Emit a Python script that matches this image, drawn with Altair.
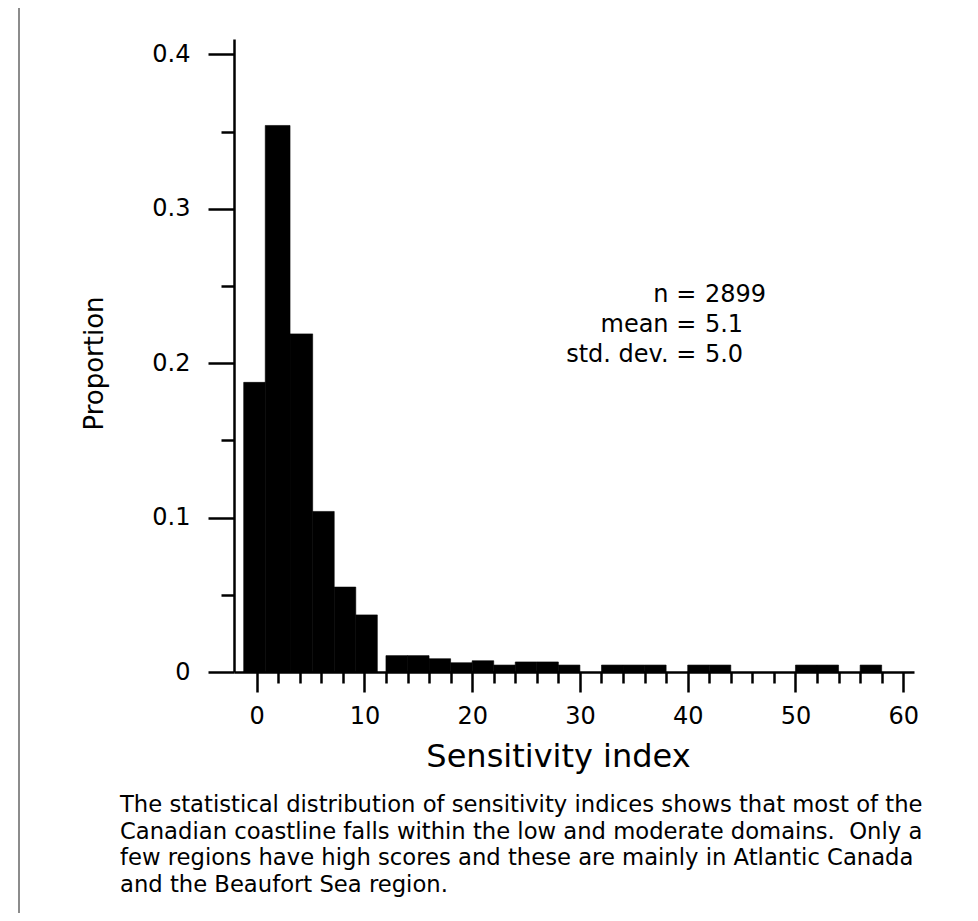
import altair as alt
import pandas as pd

FONT = "DejaVu Sans"

# ---- data ----
bin_start = [-1.2, 0.8, 3.1, 5.2, 7.2, 9.2, 12, 14, 16, 18, 20, 22, 24, 26, 28, 32, 34, 36, 40, 42, 50, 52, 56]
bin_end = [0.8, 3.1, 5.2, 7.2, 9.2, 11.2, 14, 16, 18, 20, 22, 24, 26, 28, 30, 34, 36, 38, 42, 44, 52, 54, 58]
proportion = [0.1876, 0.354, 0.219, 0.104, 0.055, 0.037,
              0.0106, 0.0106, 0.0086, 0.0060, 0.0073, 0.0045, 0.0065, 0.0065, 0.0045,
              0.0045, 0.0045, 0.0045, 0.0045, 0.0045, 0.0045, 0.0045, 0.0045]

x_tick_values = [0, 2, 4, 6, 8, 10, 12, 14, 16, 18, 20, 22, 24, 26, 28, 30,
                 32, 34, 36, 38, 40, 42, 44, 46, 48, 50, 52, 54, 56, 58, 60]
y_tick_values = [0, 0.05, 0.1, 0.15, 0.2, 0.25, 0.3, 0.35, 0.4]

stat_labels = ["n =", "mean =", "std. dev. ="]
stat_values = ["2899", "5.1", "5.0"]

caption_lines = [
    "The statistical distribution of sensitivity indices shows that most of the",
    "Canadian coastline falls within the low and moderate domains.\u00a0 Only a",
    "few regions have high scores and these are mainly in Atlantic Canada",
    "and the Beaufort Sea region.",
]

x_title = "Sensitivity index"
y_title = "Proportion"

df = pd.DataFrame({"start": bin_start, "end": bin_end, "prop": proportion})
one = pd.DataFrame({"k": [0]})

x_scale = alt.Scale(domain=[-2.1, 61.0], nice=False, zero=False)
y_scale = alt.Scale(domain=[0, 0.41], nice=False)

x_axis = alt.Axis(
    values=x_tick_values,
    tickCount=100,
    title=x_title,
    labelExpr="datum.value % 10 === 0 ? format(datum.value, 'd') : ''",
    tickSize={"condition": {"test": "datum.value % 10 === 0", "value": 20}, "value": 11},
    tickWidth=2.5, tickColor="black",
    domainWidth=2.5, domainColor="black",
    labelColor="black", labelFont=FONT, labelFontSize=24, labelPadding=12,
    labelOverlap=False, labelFlush=False,
    titleFont=FONT, titleFontSize=32, titleFontWeight="normal", titleColor="black",
    titleX=324, titleY=94, titleAlign="center", titleBaseline="alphabetic",
    grid=False,
)

y_axis = alt.Axis(
    values=y_tick_values,
    tickCount=100,
    title=y_title,
    labelExpr="round(datum.value*20) % 2 === 0 ? (datum.value === 0 ? '0' : format(datum.value, '.1f')) : ''",
    tickSize={"condition": {"test": "round(datum.value*20) % 2 === 0", "value": 26}, "value": 13},
    tickWidth=2.5, tickColor="black",
    domainWidth=2.5, domainColor="black",
    labelColor="black", labelFont=FONT, labelFontSize=24, labelPadding=18,
    labelOverlap=False, labelFlush=False,
    titleFont=FONT, titleFontSize=26, titleFontWeight="normal", titleColor="black",
    titleX=-132, titleY=324, titleAngle=270, titleAlign="center", titleBaseline="alphabetic",
    grid=False,
)

bars = alt.Chart(df).mark_rect(color="black", stroke="black", strokeWidth=0.6).encode(
    x=alt.X("start:Q", scale=x_scale, axis=x_axis),
    x2="end:Q",
    y=alt.Y("prop:Q", scale=y_scale, axis=y_axis),
    y2=alt.datum(0),
)

labels_txt = alt.Chart(one).mark_text(
    text=stat_labels, align="right", baseline="alphabetic", lineHeight=30,
    font=FONT, fontSize=24, color="black",
).encode(x=alt.datum(40.8), y=alt.datum(0.2394))

values_txt = alt.Chart(one).mark_text(
    text=stat_values, align="left", baseline="alphabetic", lineHeight=30,
    font=FONT, fontSize=24, color="black",
).encode(x=alt.datum(41.6), y=alt.datum(0.2394))

caption = alt.Chart(one).mark_text(
    text=caption_lines, align="left", baseline="alphabetic", lineHeight=26.7,
    font=FONT, fontSize=22.7, color="black",
).encode(x=alt.value(120 - 234), y=alt.value(812 - 39))

border = alt.Chart(one).mark_rule(color="#666666", strokeWidth=1.5).encode(
    x=alt.value(19 - 234), y=alt.value(-31), y2=alt.value(874)
)

chart = alt.layer(bars, labels_txt, values_txt, caption, border).properties(
    width=680, height=633,
    background="white",
    padding={"left": 226, "top": 31, "right": 56, "bottom": 241},
    autosize=alt.AutoSizeParams(type="none"),
).configure_view(stroke=None)

chart.save("out.html", embed_options={"renderer": "svg", "actions": False})
